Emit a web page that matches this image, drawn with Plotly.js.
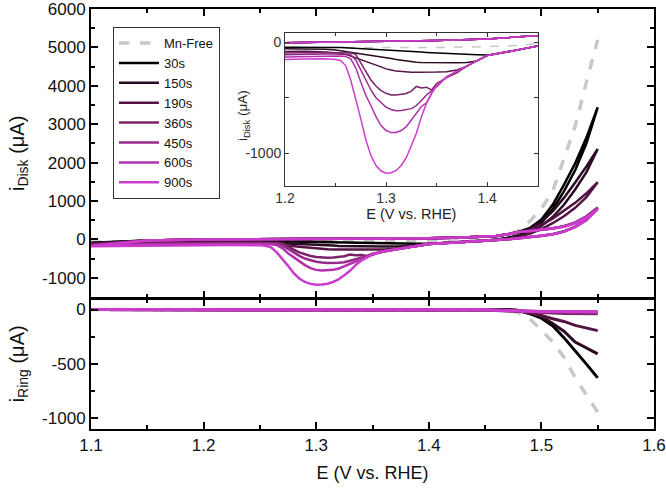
<!DOCTYPE html>
<html>
<head>
<meta charset="utf-8">
<script src="https://cdn.plot.ly/plotly-3.0.1.min.js"></script>
<style>html,body{margin:0;padding:0;background:#fff;}#chart{width:666px;height:489px;}</style>
</head>
<body>
<div id="chart"></div>
<script>
// ---------- data ----------
const seriesNames = ["Mn-Free", "30s", "150s", "190s", "360s", "450s", "600s", "900s"];

// forward (anodic) sweep potentials, V vs RHE
const Ef = [1.10, 1.15, 1.20, 1.25, 1.30, 1.35, 1.40, 1.43, 1.45, 1.46, 1.47, 1.48, 1.49, 1.50, 1.51, 1.52, 1.53, 1.54, 1.55];
// reverse (cathodic) sweep potentials
const Er = [1.55, 1.54, 1.53, 1.52, 1.51, 1.50, 1.49, 1.48, 1.47, 1.46, 1.45, 1.44, 1.43, 1.42, 1.41, 1.40, 1.39, 1.38, 1.37, 1.36,
            1.35, 1.345, 1.34, 1.335, 1.33, 1.325, 1.32, 1.315, 1.31, 1.305, 1.30, 1.295, 1.29, 1.285, 1.28, 1.275, 1.27, 1.265, 1.26, 1.255,
            1.25, 1.24, 1.22, 1.20, 1.15, 1.10];

// disk current, forward sweep (uA)
const diskFwdMnFree = [-70, -50, -46, -46, -50, -48, -40, -30, -10, 40, 120, 230, 480, 800, 1250, 2100, 2950, 4100, 5200];
const diskFwd30  = [-90,  -30, -5, 0, 5, 15, 30, 45, 60, 85, 130, 200, 300, 520, 900, 1420, 1980, 2650, 3440];
const diskFwd150 = [-100, -30, -5, 0, 5, 15, 30, 45, 60, 85, 130, 190, 280, 460, 730, 1080, 1480, 1900, 2355];
const diskFwd190 = [-120, -30, -5, 0, 5, 15, 30, 45, 60, 85, 130, 180, 250, 380, 540, 740, 950, 1200, 1490];
const diskFwd360 = [-140, -30, -5, 0, 5, 15, 30, 45, 60, 85, 130, 190, 220, 255, 290, 345, 440, 600, 830];
const diskFwd450 = [-150, -30, -5, 0, 5, 15, 30, 45, 60, 85, 130, 190, 220, 252, 285, 340, 432, 590, 815];
const diskFwd600 = [-165, -30, -5, 0, 5, 15, 30, 45, 60, 85, 130, 190, 218, 250, 282, 335, 425, 580, 800];
const diskFwd900 = [-180, -30, -5, 0, 5, 15, 30, 45, 60, 85, 130, 190, 216, 248, 280, 330, 420, 570, 790];

// disk current, reverse sweep (uA)
const diskRev30  = [3440, 2500, 1800, 1250, 780, 430, 220, 110, 40, -10, -35, -52, -70, -88, -105, -116, -113, -110, -106, -102,
                    -97, -94, -92, -89, -86, -83, -80, -78, -75, -72, -68, -65, -62, -59, -56, -54, -52, -50, -48, -47,
                    -47, -46, -46, -46, -58, -90];
const diskRev150 = [2355, 1750, 1300, 900, 580, 350, 180, 80, 20, -15, -35, -52, -70, -88, -105, -120, -170, -182, -185, -186,
                    -186, -185, -184, -182, -180, -175, -170, -162, -155, -147, -140, -132, -125, -115, -107, -100, -92, -86, -80, -75,
                    -70, -63, -60, -58, -70, -100];
const diskRev190 = [1490, 1100, 820, 600, 420, 270, 150, 70, 15, -15, -35, -52, -70, -88, -105, -120, -165, -215, -250, -265,
                    -268, -270, -270, -270, -270, -270, -268, -265, -260, -250, -240, -222, -205, -190, -172, -155, -140, -120, -108, -100,
                    -95, -88, -82, -80, -90, -120];
const diskRev360 = [830, 520, 330, 210, 135, 92, 57, 27, 2, -18, -35, -52, -70, -88, -105, -120, -165, -215, -275, -318,
                    -372, -430, -405, -412, -398, -440, -462, -472, -476, -475, -460, -435, -395, -340, -265, -190, -110, -96, -95, -95,
                    -95, -95, -94, -93, -105, -140];
const diskRev450 = [815, 510, 325, 205, 132, 91, 56, 26, 1, -19, -35, -52, -70, -88, -105, -120, -165, -215, -262, -312,
                    -400, -440, -475, -525, -570, -598, -608, -614, -616, -605, -585, -545, -500, -430, -340, -235, -160, -112, -108, -106,
                    -106, -106, -107, -108, -120, -150];
const diskRev600 = [800, 505, 322, 202, 131, 90, 55, 25, 0, -20, -35, -52, -70, -88, -105, -120, -165, -215, -262, -312,
                    -390, -460, -545, -578, -640, -705, -760, -795, -812, -814, -795, -750, -670, -570, -480, -360, -230, -150, -128, -125,
                    -125, -125, -127, -129, -140, -165];
const diskRev900 = [790, 500, 320, 200, 130, 90, 55, 25, 0, -20, -35, -52, -70, -88, -105, -120, -165, -215, -262, -312,
                    -390, -460, -550, -670, -820, -935, -1040, -1110, -1155, -1175, -1180, -1160, -1110, -1020, -880, -690, -510, -340, -210, -165,
                    -155, -148, -150, -153, -160, -180];

// ring current (uA)
const Ering = [1.10, 1.20, 1.30, 1.40, 1.45, 1.46, 1.47, 1.48, 1.49, 1.50, 1.51, 1.52, 1.53, 1.54, 1.55];
const ringMnFree = [0, 0, 0, 0, 0, -2, -8, -30, -90, -190, -300, -440, -630, -790, -950];
const ring30  = [0, 0, 0, 0, 0, 0, -3, -10, -40, -80, -150, -260, -380, -505, -632];
const ring150 = [0, 0, 0, 0, 0, 0, -3, -10, -35, -65, -130, -200, -300, -355, -410];
const ring190 = [0, 0, 0, 0, 0, 0, -3, -8, -30, -55, -85, -110, -147, -170, -195];
const ring360 = [0, 0, 0, 0, -3, -8, -14, -20, -26, -30, -33, -36, -38, -39, -40];
const ring450 = [0, 0, 0, 0, -3, -8, -12, -16, -19, -21, -22, -23, -24, -25, -25];
const ring600 = [0, 0, 0, 0, -3, -7, -11, -14, -16, -18, -19, -19, -20, -20, -20];
const ring900 = [0, 0, 0, 0, -3, -7, -11, -14, -16, -18, -19, -19, -20, -20, -20];

// tick labels
const xTickVals = [1.1, 1.2, 1.3, 1.4, 1.5, 1.6];
const xTickText = ["1.1", "1.2", "1.3", "1.4", "1.5", "1.6"];
const diskTickVals = [-1000, 0, 1000, 2000, 3000, 4000, 5000, 6000];
const diskTickText = ["-1000", "0", "1000", "2000", "3000", "4000", "5000", "6000"];
const ringTickVals = [-1000, -500, 0];
const ringTickText = ["-1000", "-500", "0"];
const insetXTickVals = [1.2, 1.3, 1.4];
const insetXTickText = ["1.2", "1.3", "1.4"];
const insetYTickVals = [-1000, 0];
const insetYTickText = ["-1000", "0"];

// ---------- styles ----------
const colors = ["#c8c8c8", "#000000", "#2b0b22", "#541343", "#7b2468", "#962a8b", "#b331ac", "#cc3ccc"];

const diskX = [Ef, Ef.concat(Er), Ef.concat(Er), Ef.concat(Er), Ef.concat(Er), Ef.concat(Er), Ef.concat(Er), Ef.concat(Er)];
const diskY = [diskFwdMnFree,
  diskFwd30.concat(diskRev30), diskFwd150.concat(diskRev150), diskFwd190.concat(diskRev190),
  diskFwd360.concat(diskRev360), diskFwd450.concat(diskRev450), diskFwd600.concat(diskRev600), diskFwd900.concat(diskRev900)];
const ringY = [ringMnFree, ring30, ring150, ring190, ring360, ring450, ring600, ring900];

const traces = [];
seriesNames.forEach((name, i) => {
  const dash = i === 0 ? "dash" : "solid";
  traces.push({x: diskX[i], y: diskY[i], type: "scatter", mode: "lines", name: name,
    xaxis: "x", yaxis: "y", line: {color: colors[i], width: i === 0 ? 3.5 : 2.5, dash: dash}, showlegend: true});
});
seriesNames.forEach((name, i) => {
  const dash = i === 0 ? "dash" : "solid";
  traces.push({x: Ering, y: ringY[i], type: "scatter", mode: "lines", name: name,
    xaxis: "x2", yaxis: "y2", line: {color: colors[i], width: i === 0 ? 3.5 : 3, dash: dash}, showlegend: false});
});
seriesNames.forEach((name, i) => {
  const dash = i === 0 ? "dash" : "solid";
  traces.push({x: diskX[i], y: diskY[i], type: "scatter", mode: "lines", name: name,
    xaxis: "x3", yaxis: "y3", line: {color: colors[i], width: 1.5, dash: dash}, showlegend: false});
});

const font = "Liberation Sans, Arial, sans-serif";
const axisBase = {showline: true, linecolor: "#000", linewidth: 2, mirror: "ticks", ticks: "inside",
  ticklen: 7, tickwidth: 2, tickcolor: "#000", showgrid: false, zeroline: false, ticklabeloverflow: "allow",
  tickfont: {family: font, size: 17, color: "#111"}};

const split = 0.3126;
const gap = 1 / 420;
const layout = {
  width: 666, height: 489,
  margin: {l: 91, r: 12, t: 9, b: 60},
  paper_bgcolor: "#fff", plot_bgcolor: "#fff",
  font: {family: font, color: "#111"},
  showlegend: true,
  legend: {x: 0.039, y: 0.957, xanchor: "left", yanchor: "top", bordercolor: "#333", borderwidth: 1,
    bgcolor: "#fff", font: {family: font, size: 13, color: "#111"}, tracegroupgap: 0, itemwidth: 40},
  xaxis: Object.assign({}, axisBase, {domain: [0, 1], anchor: "y", range: [1.1, 1.6], tickmode: "array",
    tickvals: xTickVals, ticktext: xTickText, showticklabels: false,
    minor: {ticks: "inside", ticklen: 4, tickwidth: 2, tickcolor: "#000", dtick: 0.05, tick0: 1.1}}),
  yaxis: Object.assign({}, axisBase, {domain: [split, 1], anchor: "x", range: [-1520, 6000], tickmode: "array",
    tickvals: diskTickVals, ticktext: diskTickText,
    minor: {ticks: "inside", ticklen: 4, tickwidth: 2, tickcolor: "#000", dtick: 500, tick0: 0},
    title: {text: "i<sub>Disk</sub> (μA)", font: {family: font, size: 20, color: "#111"}, standoff: 12}}),
  xaxis2: Object.assign({}, axisBase, {domain: [0, 1], anchor: "y2", matches: "x", range: [1.1, 1.6], tickmode: "array",
    tickvals: xTickVals, ticktext: xTickText,
    minor: {ticks: "inside", ticklen: 4, tickwidth: 2, tickcolor: "#000", dtick: 0.05, tick0: 1.1},
    title: {text: "E (V vs. RHE)", font: {family: font, size: 18, color: "#111"}, standoff: 12}}),
  yaxis2: Object.assign({}, axisBase, {domain: [0, split - gap], anchor: "x2", range: [-1105, 100], tickmode: "array",
    tickvals: ringTickVals, ticktext: ringTickText,
    minor: {ticks: "inside", ticklen: 4, tickwidth: 2, tickcolor: "#000", dtick: 250, tick0: 0},
    title: {text: "i<sub>Ring</sub> (μA)", font: {family: font, size: 20, color: "#111"}, standoff: 12}}),
  xaxis3: {domain: [0.3446, 0.7934], anchor: "y3", range: [1.2, 1.45], showline: true, linecolor: "#333", linewidth: 1,
    mirror: "ticks", ticks: "inside", ticklen: 4, tickwidth: 1, tickcolor: "#333", showgrid: false, zeroline: false,
    tickmode: "array", tickvals: insetXTickVals, ticktext: insetXTickText,
    tickfont: {family: font, size: 14, color: "#333"},
    minor: {ticks: "inside", ticklen: 3, tickwidth: 1, tickcolor: "#333", dtick: 0.05, tick0: 1.2},
    title: {text: "E (V vs. RHE)", font: {family: font, size: 14.5, color: "#222"}, standoff: 2}},
  yaxis3: {domain: [0.5793, 0.9436], anchor: "x3", range: [-1292, 86], showline: true, linecolor: "#333", linewidth: 1,
    mirror: "ticks", ticks: "inside", ticklen: 4, tickwidth: 1, tickcolor: "#333", showgrid: false, zeroline: false,
    tickmode: "array", tickvals: insetYTickVals, ticktext: insetYTickText,
    tickfont: {family: font, size: 14, color: "#333"},
    minor: {ticks: "inside", ticklen: 4, tickwidth: 1, tickcolor: "#333", dtick: 500, tick0: 0}},
  annotations: [
    {text: "i<sub>Disk</sub> (μA)", xref: "paper", yref: "paper", x: 0.27, y: 0.745, xanchor: "center", yanchor: "middle",
     textangle: -90, showarrow: false, font: {family: font, size: 13.5, color: "#222"}}
  ]
};

Plotly.newPlot("chart", traces, layout, {staticPlot: true, displayModeBar: false});
</script>
</body>
</html>
